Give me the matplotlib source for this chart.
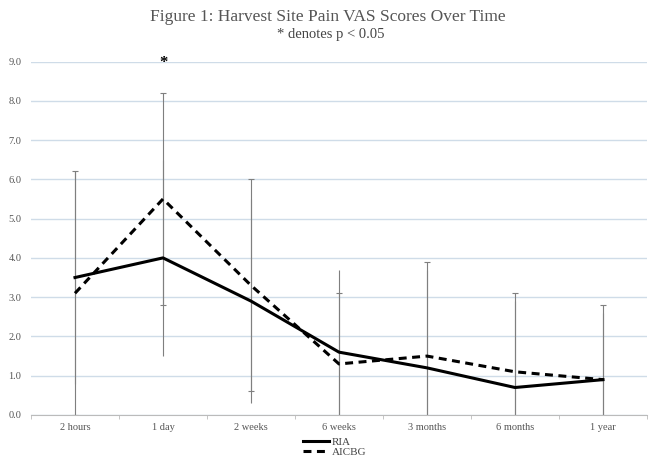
import matplotlib
matplotlib.use("Agg")
import matplotlib.pyplot as plt
import numpy as np

# data
timepoints = ['2 hours', '1 day', '2 weeks', '6 weeks', '3 months', '6 months', '1 year']
ria = [3.5, 4.0, 2.9, 1.6, 1.2, 0.7, 0.9]
aicbg = [3.1, 5.5, 3.3, 1.3, 1.5, 1.1, 0.9]
ria_err = [2.7, 2.5, 2.6, 2.1, 2.5, 2.2, 1.7]
aicbg_err = [3.1, 2.7, 2.7, 1.8, 2.4, 2.0, 1.9]
signif = ['', '*', '', '', '', '', '']
yticks = [0, 1, 2, 3, 4, 5, 6, 7, 8, 9]

plt.rcParams['font.family'] = ['Liberation Serif', 'DejaVu Serif']

fig = plt.figure(figsize=(6.49, 4.57), dpi=100)
ax = fig.add_axes([31/649, 1-415/457, 616/649, (415-61.5)/457])

x = np.arange(len(timepoints))
grey = '#7f7f7f'

# RIA bars drawn without caps, AICBG with caps (as in the original)
ax.errorbar(x, ria, yerr=ria_err, fmt='none', ecolor=grey, elinewidth=0.8,
            capsize=0, zorder=2)
ax.errorbar(x, aicbg, yerr=aicbg_err, fmt='none', ecolor=grey, elinewidth=0.8,
            capsize=2.5, capthick=0.8, zorder=2)
ax.plot(x, ria, color='black', lw=2.2, zorder=3, label='RIA')
ax.plot(x, aicbg, color='black', lw=2.2, ls=(0, (2.6, 1.8)), zorder=3, label='AICBG')

for xi, s in zip(x, signif):
    if s:
        ax.text(xi, 8.95, s, ha='center', va='center', fontsize=12,
                fontweight='bold', color='black')

ax.set_xlim(-0.5, len(timepoints) - 0.5)
ax.set_ylim(0, 9)
ax.set_yticks(yticks)
ax.set_yticklabels(['%.1f' % v for v in yticks])
ax.set_xticks(x)
ax.set_xticklabels(timepoints)
ax.set_xticks(np.arange(len(timepoints) + 1) - 0.5, minor=True)
ax.tick_params(axis='x', which='major', length=0, pad=6, labelsize=7.5, colors='#555555')
ax.tick_params(axis='x', which='minor', length=3, color='#bbbbbb', direction='out')
ax.tick_params(axis='y', length=0, pad=7, labelsize=7.5, colors='#555555')

ax.grid(axis='y', color='#cfdce8', lw=1.0)
ax.set_axisbelow(True)
for side in ['top', 'right', 'left']:
    ax.spines[side].set_visible(False)
ax.spines['bottom'].set_color('#bbbbbb')

fig.text(0.505, 0.962, 'Figure 1: Harvest Site Pain VAS Scores Over Time',
         ha='center', va='center', fontsize=12.5, color='#555555')
fig.text(0.51, 0.925, '* denotes p < 0.05', ha='center', va='center',
         fontsize=10.5, color='#444444')

leg = fig.legend(loc='center', bbox_to_anchor=(0.515, 0.022), ncol=1, frameon=False,
                 fontsize=8, handlelength=2.4, handletextpad=0.2, labelspacing=0.0,
                 borderpad=0)
for t in leg.get_texts():
    t.set_color('#444444')

fig.savefig('out.png', dpi=100)
